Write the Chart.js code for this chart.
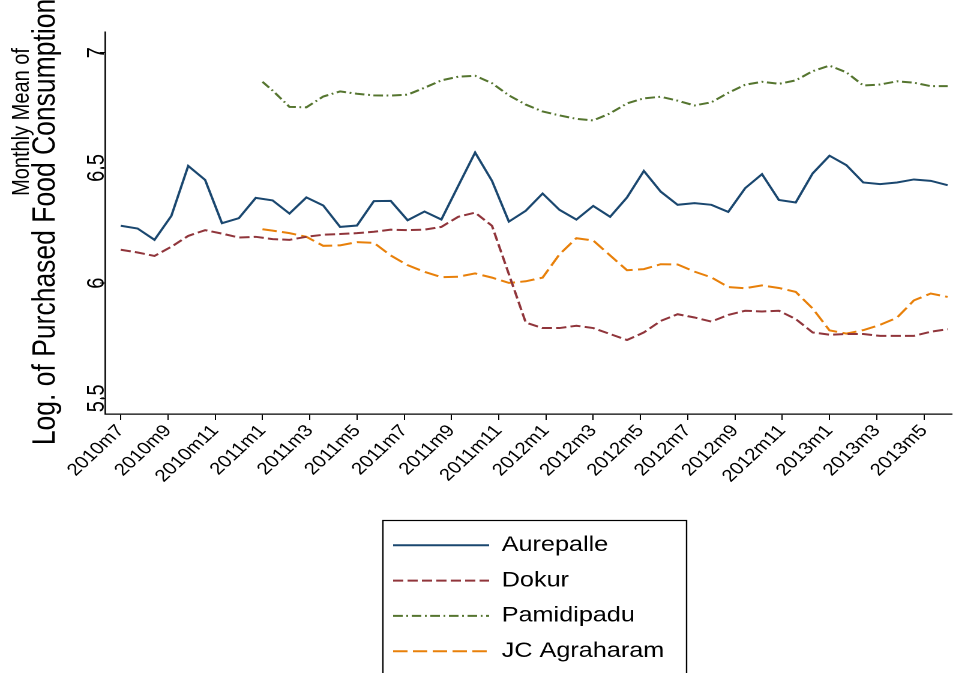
<!DOCTYPE html>
<html>
<head>
<meta charset="utf-8">
<script src="https://cdn.jsdelivr.net/npm/chart.js@4/dist/chart.umd.min.js"></script>
<style>
  html, body { margin: 0; padding: 0; background: #fff; overflow: hidden; }
  /* the figure is laid out on a narrower canvas and widened to the page */
  #wrap { position: absolute; left: 0; top: 0; width: 794px; height: 673px;
          transform-origin: 0 0; transform: scaleX(1.2003); }
</style>
</head>
<body>
<div id="wrap"><canvas id="c" width="794" height="673"></canvas></div>
<script>
// Month labels on the time axis (every second month)
const tickLabels = ['2010m7', '2010m9', '2010m11', '2011m1', '2011m3', '2011m5', '2011m7',
  '2011m9', '2011m11', '2012m1', '2012m3', '2012m5', '2012m7', '2012m9', '2012m11',
  '2013m1', '2013m3', '2013m5'];
const yTicks = [5.5, 6, 6.5, 7];

const seriesNames = ['Aurepalle', 'Dokur', 'Pamidipadu', 'JC Agraharam'];

// Observation positions along the time axis (survey rounds)
const obsAll = Array.from({ length: 50 }, (_, i) => i);
const obsLate = [8.4].concat(obsAll.slice(9));   // the two later villages start in 2011m1

// Monthly mean of log purchased food consumption
const aurepalle = [6.249, 6.237, 6.188, 6.292, 6.509, 6.448, 6.260, 6.282, 6.370, 6.359,
  6.302, 6.372, 6.337, 6.244, 6.250, 6.356, 6.357, 6.273, 6.311, 6.276,
  6.422, 6.567, 6.444, 6.267, 6.314, 6.389, 6.318, 6.276, 6.335, 6.288,
  6.372, 6.487, 6.397, 6.340, 6.347, 6.340, 6.309, 6.412, 6.473, 6.361,
  6.350, 6.476, 6.553, 6.512, 6.437, 6.430, 6.437, 6.450, 6.444, 6.425];
const dokur = [6.145, 6.133, 6.118, 6.158, 6.205, 6.230, 6.215, 6.198, 6.201, 6.191,
  6.188, 6.201, 6.210, 6.213, 6.217, 6.223, 6.232, 6.230, 6.232, 6.244,
  6.288, 6.306, 6.249, 6.039, 5.829, 5.805, 5.805, 5.815, 5.805, 5.779,
  5.753, 5.786, 5.836, 5.865, 5.851, 5.833, 5.862, 5.880, 5.877, 5.880,
  5.844, 5.786, 5.776, 5.779, 5.779, 5.771, 5.771, 5.771, 5.789, 5.800];
const pamidipadu = [6.874, 6.836, 6.765, 6.763, 6.810, 6.832, 6.822, 6.815, 6.814, 6.818,
  6.848, 6.880, 6.896, 6.900, 6.868, 6.815, 6.775, 6.745, 6.728, 6.713,
  6.706, 6.737, 6.780, 6.802, 6.809, 6.792, 6.771, 6.785, 6.826, 6.861,
  6.874, 6.865, 6.880, 6.920, 6.944, 6.915, 6.858, 6.862, 6.876, 6.870,
  6.855, 6.855];
const jcAgraharam = [6.234, 6.228, 6.217, 6.201, 6.162, 6.164, 6.178, 6.175, 6.120, 6.078,
  6.049, 6.026, 6.028, 6.042, 6.024, 6.001, 6.008, 6.024, 6.125, 6.195,
  6.185, 6.120, 6.056, 6.061, 6.082, 6.081, 6.050, 6.025, 5.983, 5.978,
  5.990, 5.979, 5.962, 5.890, 5.795, 5.781, 5.796, 5.819, 5.850, 5.925,
  5.955, 5.940];

const yTitleLines = ['Monthly Mean of', 'Log. of Purchased Food Consumption'];

const toXY = (xs, ys) => ys.map((v, i) => ({ x: xs[i], y: v }));
const FONT = '"Liberation Sans", Arial, Helvetica, sans-serif';
Chart.defaults.font.family = FONT;
Chart.defaults.color = '#000';

// rounds per month on the axis
const ROUNDS_PER_MONTH = 1.4;

// legend placed as a framed box under the axis labels
const LEGEND_BOX = { left: 319, top: 520.5, width: 253, height: 200 };

const legendPlacer = {
  id: 'legendPlacer',
  afterLayout(chart) {
    const lg = chart.legend;
    if (!lg) return;
    lg.left = LEGEND_BOX.left - 5.8;
    lg.top = LEGEND_BOX.top;
    lg.right = LEGEND_BOX.left + LEGEND_BOX.width;
    lg.bottom = LEGEND_BOX.top + LEGEND_BOX.height;
    lg.width = lg.right - lg.left;
    lg.height = lg.bottom - lg.top;
  },
  afterDraw(chart) {
    const ctx = chart.ctx;
    ctx.save();
    ctx.strokeStyle = '#000';
    ctx.lineWidth = 1.2;
    ctx.strokeRect(LEGEND_BOX.left, LEGEND_BOX.top, LEGEND_BOX.width, LEGEND_BOX.height);
    ctx.restore();
  }
};

// two-line rotated title for the value axis
const yTitle = {
  id: 'yTitle',
  afterDraw(chart) {
    const ctx = chart.ctx;
    const area = chart.chartArea;
    const mid = (area.top + area.bottom) / 2;
    const rows = [
      { text: yTitleLines[0], size: 20, x: 18.5, y: mid - 101 },
      { text: yTitleLines[1], size: 26.5, x: 38, y: mid - 1 }
    ];
    ctx.save();
    ctx.fillStyle = '#000';
    ctx.textAlign = 'center';
    ctx.textBaseline = 'middle';
    rows.forEach(r => {
      ctx.save();
      ctx.font = r.size + 'px ' + FONT;
      ctx.translate(r.x, r.y);
      ctx.rotate(-Math.PI / 2);
      ctx.fillText(r.text, 0, 0);
      ctx.restore();
    });
    ctx.restore();
  }
};

const base = { fill: false, pointRadius: 0, pointHoverRadius: 0, tension: 0, borderWidth: 2 };

new Chart(document.getElementById('c'), {
  type: 'line',
  data: {
    datasets: [
      Object.assign({ label: seriesNames[0], data: toXY(obsAll, aurepalle),
        borderColor: 'rgb(26,71,111)', borderDash: [] }, base),
      Object.assign({ label: seriesNames[1], data: toXY(obsAll, dokur),
        borderColor: 'rgb(144,53,59)', borderDash: [8.5, 3.5] }, base),
      Object.assign({ label: seriesNames[2], data: toXY(obsLate, pamidipadu),
        borderColor: 'rgb(85,117,47)', borderDash: [8, 3, 1.5, 3] }, base),
      Object.assign({ label: seriesNames[3], data: toXY(obsLate, jcAgraharam),
        borderColor: 'rgb(232,128,10)', borderDash: [12, 4.5] }, base)
    ]
  },
  options: {
    responsive: false,
    devicePixelRatio: 2,
    animation: false,
    events: [],
    layout: { padding: { top: 32, right: 1, bottom: 0, left: 0 } },
    scales: {
      x: {
        type: 'linear',
        min: -0.93,
        max: 49.25,
        afterBuildTicks: s => { s.ticks = tickLabels.map((_, k) => ({ value: k * 2 * ROUNDS_PER_MONTH })); },
        afterFit: s => { s.height = 259; },
        grid: { drawOnChartArea: false, drawTicks: true, tickLength: 6, color: '#000', lineWidth: 1 },
        border: { display: true, color: '#000', width: 1.3 },
        ticks: {
          autoSkip: false, minRotation: 48, maxRotation: 48, padding: 1,
          font: { size: 17 }, color: '#000',
          callback: (v, i) => tickLabels[i]
        }
      },
      y: {
        type: 'linear',
        min: 5.432,
        max: 7.09,
        afterBuildTicks: s => { s.ticks = yTicks.map(v => ({ value: v })); },
        afterFit: s => { s.width = 87.5; },
        grid: { drawOnChartArea: false, drawTicks: true, tickLength: 4.2, color: '#000', lineWidth: 1 },
        border: { display: true, color: '#000', width: 1.3 },
        ticks: {
          minRotation: 90, maxRotation: 90, crossAlign: 'center', padding: -11.5,
          font: { size: 20 }, color: '#000',
          callback: v => String(v)
        }
      }
    },
    plugins: {
      tooltip: { enabled: false },
      title: { display: false },
      legend: {
        display: true,
        position: 'chartArea',
        align: 'start',
        labels: {
          usePointStyle: true,
          pointStyle: 'line',
          pointStyleWidth: 80,
          boxHeight: 21,
          padding: 14.3,
          color: '#000',
          font: { size: 21 },
          generateLabels: chart => chart.data.datasets.map((ds, i) => ({
            text: ds.label,
            datasetIndex: i,
            hidden: false,
            fillStyle: ds.borderColor,
            strokeStyle: ds.borderColor,
            fontColor: '#000',
            lineWidth: ds.borderWidth,
            lineDash: ds.borderDash,
            lineCap: 'butt',
            pointStyle: 'line'
          }))
        }
      }
    }
  },
  plugins: [legendPlacer, yTitle]
});
</script>
</body>
</html>
